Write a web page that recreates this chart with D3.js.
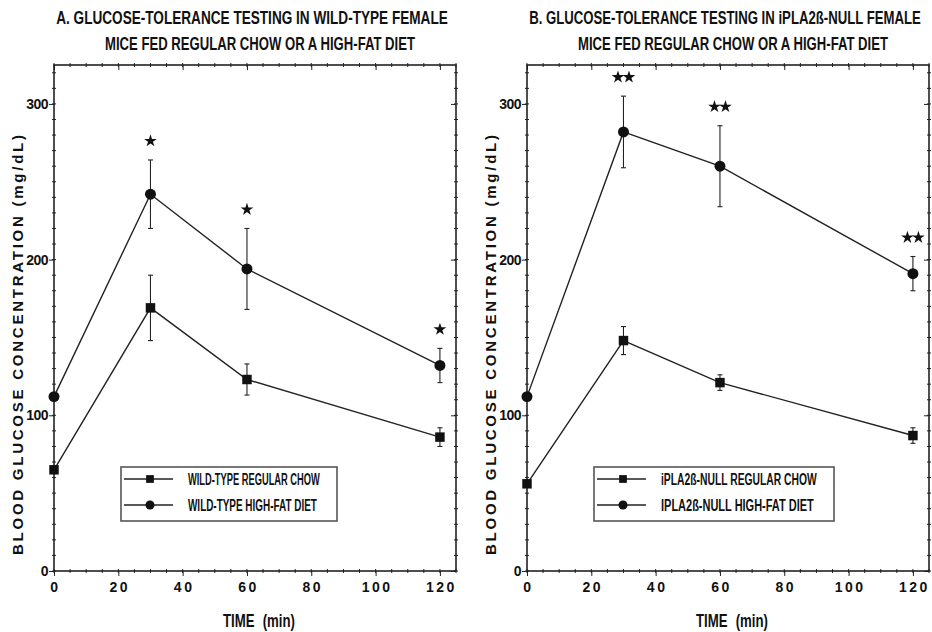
<!DOCTYPE html>
<html>
<head>
<meta charset="utf-8">
<script src="https://cdn.jsdelivr.net/npm/d3@7"></script>
<style>
  body { margin: 0; background: #fff; }
  svg { display: block; }
  text { fill: #111; }
</style>
</head>
<body>
<div id="chart"></div>
<script>
// data (mean, +/- error)
var times = [0, 30, 60, 120];
var xTicks = [0, 20, 40, 60, 80, 100, 120];
var yTicks = [0, 100, 200, 300];

var wtChow = [65, 169, 123, 86];
var wtChowErr = [0, 21, 10, 6];
var wtFat = [112, 242, 194, 132];
var wtFatErr = [0, 22, 26, 11];
var wtStars = ["", "*", "*", "*"];

var koChow = [56, 148, 121, 87];
var koChowErr = [0, 9, 5, 5];
var koFat = [112, 282, 260, 191];
var koFatErr = [0, 23, 26, 11];
var koStars = ["", "**", "**", "**"];

var titlesA = ["A. GLUCOSE-TOLERANCE TESTING IN WILD-TYPE FEMALE", "MICE FED REGULAR CHOW OR A HIGH-FAT DIET"];
var titlesB = ["B. GLUCOSE-TOLERANCE TESTING IN iPLA2\u00DF-NULL FEMALE", "MICE FED REGULAR CHOW OR A HIGH-FAT DIET"];
var legendA = ["WILD-TYPE REGULAR CHOW", "WILD-TYPE HIGH-FAT DIET"];
var legendB = ["iPLA2\u00DF-NULL REGULAR CHOW", "IPLA2\u00DF-NULL HIGH-FAT DIET"];

var width = 932, height = 632;
var font = "'Liberation Sans',Arial,sans-serif";

var svg = d3.select("#chart").append("svg")
    .attr("width", width)
    .attr("height", height);

// squeeze a text horizontally so it fills w pixels (the original uses a narrow face)
function squeeze(t, px, py, w) {
  var n = t.node().getComputedTextLength();
  var k = Math.min(1, w / n);
  t.attr("x", 0).attr("y", 0)
    .attr("transform", "translate(" + px + "," + py + ") scale(" + k + ",1)");
}

function drawPanel(left, titles, chow, chowErr, fat, fatErr, stars, legendText, legW) {
  var x0 = left, x1 = left + 402, yTop = 65, yBot = 571;

  var x = d3.scaleLinear().domain([0, 125]).range([x0, x1]);
  var y = d3.scaleLinear().domain([0, 325]).range([yBot, yTop]);

  var g = svg.append("g");

  // titles
  titles.forEach(function(d, i) {
    var t = g.append("text")
      .attr("text-anchor", "middle")
      .style("font-family", font)
      .style("font-size", "18px")
      .style("font-weight", "bold")
      .text(d);
    squeeze(t, (x0 + x1) / 2 + (i == 0 ? -3 : 5), 24 + i * 26, i == 0 ? 392 : 310);
  });

  var xMinor = d3.range(0, 126, 5);
  var yMinor = d3.range(0, 326, 10);

  var bottom = d3.axisBottom(x).tickValues(xTicks).tickSize(5).tickPadding(6);
  var gb = g.append("g").attr("transform", "translate(0," + yBot + ")").call(bottom);
  gb.select(".domain").remove();
  gb.selectAll("text")
    .style("font-family", font)
    .style("font-size", "14px")
    .style("font-weight", "bold")
    .style("letter-spacing", "2.5px")
    .attr("dx", "1px");

  var leftAx = d3.axisLeft(y).tickValues(yTicks).tickSize(5).tickPadding(1);
  var gl = g.append("g").attr("transform", "translate(" + x0 + ",0)").call(leftAx);
  gl.select(".domain").remove();
  gl.selectAll("text")
    .style("font-family", font)
    .style("font-size", "14px")
    .style("font-weight", "bold")
    .style("letter-spacing", "-0.5px");

  g.append("g").attr("transform", "translate(0," + yTop + ")")
    .call(d3.axisBottom(x).tickValues(xTicks).tickSize(5).tickFormat(""))
    .select(".domain").remove();
  g.append("g").attr("transform", "translate(" + x1 + ",0)")
    .call(d3.axisLeft(y).tickValues(yTicks).tickSize(5).tickFormat(""))
    .select(".domain").remove();

  // small ticks on all four sides
  var mt = g.append("g");
  mt.append("g").selectAll("line").data(xMinor).enter().append("line")
    .attr("x1", x).attr("x2", x).attr("y1", yBot - 2).attr("y2", yBot + 2);
  mt.append("g").selectAll("line").data(xMinor).enter().append("line")
    .attr("x1", x).attr("x2", x).attr("y1", yTop - 2).attr("y2", yTop + 2);
  mt.append("g").selectAll("line").data(yMinor).enter().append("line")
    .attr("x1", x0 - 2).attr("x2", x0 + 2).attr("y1", y).attr("y2", y);
  mt.append("g").selectAll("line").data(yMinor).enter().append("line")
    .attr("x1", x1 - 2).attr("x2", x1 + 2).attr("y1", y).attr("y2", y);
  g.selectAll("line").attr("stroke", "#222").attr("stroke-width", 1);

  // frame
  g.append("rect")
    .attr("x", x0).attr("y", yTop)
    .attr("width", x1 - x0).attr("height", yBot - yTop)
    .attr("fill", "none").attr("stroke", "#222").attr("stroke-width", 1.6);

  // axis titles
  var tt = g.append("text")
    .attr("text-anchor", "middle")
    .style("font-family", font)
    .style("font-size", "18px")
    .style("font-weight", "bold")
    .style("word-spacing", "6px")
    .text("TIME (min)");
  squeeze(tt, (x0 + x1) / 2 + 4, 627, 72);

  g.append("text")
    .attr("transform", "translate(" + (x0 - 31) + "," + 345 + ") rotate(-90)")
    .attr("text-anchor", "middle")
    .style("font-family", font)
    .style("font-size", "15px")
    .style("font-weight", "bold")
    .attr("textLength", 420)
    .attr("lengthAdjust", "spacing")
    .text("BLOOD  GLUCOSE  CONCENTRATION  (mg/dL)");

  var series = [
    { v: chow, e: chowErr, shape: d3.symbolSquare, size: 90 },
    { v: fat, e: fatErr, shape: d3.symbolCircle, size: 95 }
  ];

  var line = d3.line()
    .x(function(d, i) { return x(times[i]); })
    .y(function(d) { return y(d); });

  series.forEach(function(s) {
    g.append("path")
      .attr("d", line(s.v))
      .attr("fill", "none")
      .attr("stroke", "#222")
      .attr("stroke-width", 1.4);

    var pts = s.v.map(function(d, i) { return { t: times[i], m: d, e: s.e[i] }; })
      .filter(function(p) { return p.e > 0; });

    var eb = g.append("g").selectAll("g").data(pts).enter().append("g");
    eb.append("line")
      .attr("x1", function(p) { return x(p.t); })
      .attr("x2", function(p) { return x(p.t); })
      .attr("y1", function(p) { return y(p.m + p.e); })
      .attr("y2", function(p) { return y(p.m - p.e); });
    [1, -1].forEach(function(sign) {
      eb.append("line")
        .attr("x1", function(p) { return x(p.t) - 2.5; })
        .attr("x2", function(p) { return x(p.t) + 2.5; })
        .attr("y1", function(p) { return y(p.m + sign * p.e); })
        .attr("y2", function(p) { return y(p.m + sign * p.e); });
    });
    eb.selectAll("line").attr("stroke", "#222").attr("stroke-width", 1.1);

    g.append("g").selectAll("path").data(s.v).enter().append("path")
      .attr("d", d3.symbol().type(s.shape).size(s.size))
      .attr("transform", function(d, i) { return "translate(" + x(times[i]) + "," + y(d) + ")"; })
      .attr("fill", "#111");
  });

  // significance stars above the high-fat error bars
  stars.forEach(function(st, i) {
    var n = st.length;
    for (var k = 0; k < n; k++) {
      var sx = x(times[i]) + (k - (n - 1) / 2) * 11;
      var sy = y(fat[i] + fatErr[i]) - 19;
      g.append("path")
        .attr("d", d3.symbol().type(d3.symbolStar).size(50))
        .attr("transform", "translate(" + sx + "," + sy + ")")
        .attr("fill", "#111");
    }
  });

  // legend
  var lx = x0 + 67, ly = 467;
  var lg = g.append("g");
  lg.append("rect")
    .attr("x", lx).attr("y", ly).attr("width", legW).attr("height", 54)
    .attr("fill", "#fff").attr("stroke", "#555").attr("stroke-width", 1.6);
  var shapes = [d3.symbolSquare, d3.symbolCircle];
  legendText.forEach(function(t, i) {
    var ry = ly + 12 + i * 26;
    lg.append("line")
      .attr("x1", lx + 3).attr("x2", lx + 52)
      .attr("y1", ry).attr("y2", ry)
      .attr("stroke", "#222").attr("stroke-width", 1.4);
    lg.append("path")
      .attr("d", d3.symbol().type(shapes[i]).size(i == 0 ? 60 : 65))
      .attr("transform", "translate(" + (lx + 29) + "," + ry + ")")
      .attr("fill", "#111");
    var lt = lg.append("text")
      .style("font-family", font)
      .style("font-size", "17px")
      .style("font-weight", "bold")
      .text(t);
    squeeze(lt, lx + 67, ry + 6, legW - 84 - (i == 1 ? 3 : 0));
  });
}

drawPanel(54, titlesA, wtChow, wtChowErr, wtFat, wtFatErr, wtStars, legendA, 216);
drawPanel(527, titlesB, koChow, koChowErr, koFat, koFatErr, koStars, legendB, 240);
</script>
</body>
</html>
